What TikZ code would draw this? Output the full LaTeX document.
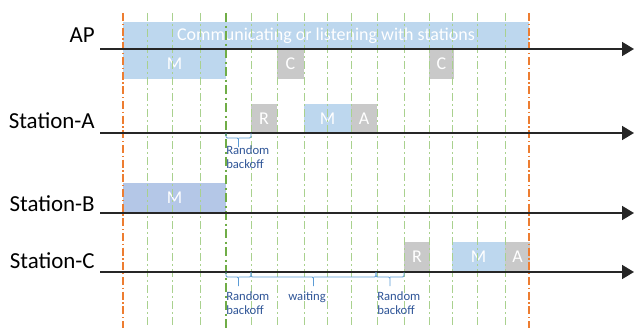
\documentclass[tikz,border=0pt]{standalone}
\usepackage{fontspec}
\setmainfont{Carlito}
\usetikzlibrary{positioning, arrows.meta, calc}
\definecolor{apblue}{HTML}{BDD7EE}
\definecolor{bblue}{HTML}{B4C7E7}
\definecolor{cgray}{HTML}{C9C9C9}
\definecolor{gridgreen}{HTML}{A9D18E}
\definecolor{mgreen}{HTML}{70AD47}
\definecolor{borange}{HTML}{ED7D31}
\definecolor{bracecol}{HTML}{5B9BD5}
\definecolor{notecol}{HTML}{2F5597}
\newcommand{\bkt}[2]{\draw[bracket] (#1) -- ++(0,5) -- ($(#1)!.5!(#2)+(0,5)$) -- ++(0,9) ++(0,-9) -- ($(#2)+(0,5)$) -- (#2);}

\begin{document}
\begin{tikzpicture}[x=0.75pt, y=-0.75pt, every node/.style={font=\fontsize{13.5}{15}\selectfont}]
  % Styles
  \tikzset{
    frame/.style = {minimum height=22pt, inner sep=0pt, text=white},
    msg/.style = {frame, fill=apblue},
    ctrl/.style = {frame, fill=cgray},
    station/.style = {anchor=base east, inner sep=0pt, font=\fontsize{17.2}{19}\selectfont},
    timeline/.style = {line width=1.2pt, black!85, -{Triangle[length=9pt, width=10.5pt]}},
    slot/.style = {gridgreen, line width=0.6pt, dash pattern=on 6pt off 2.5pt on 1pt off 2.5pt},
    start/.style = {mgreen, line width=1.5pt, dash pattern=on 7pt off 2.5pt on 1.5pt off 2.5pt},
    bound/.style = {borange, line width=0.8pt, dash pattern=on 6pt off 2pt on 1pt off 2pt},
    bracket/.style = {bracecol, line width=0.7pt, rounded corners=1pt},
    note/.style = {text=notecol, font=\fontsize{9.5}{11}\selectfont, align=left, inner sep=0pt, anchor=north west}
  }
  \useasboundingbox (0,0) rectangle (634,328);

  % Frames
  \node[msg, minimum width=304.5pt, minimum height=20pt] (comm) at (326,35.5) {Communicating or listening with stations};
  \node[msg, minimum width=77.25pt] (apM) at (174.5,64) {M};
  \node[ctrl, minimum width=20.25pt] (apC1) at (290.5,64) {C};
  \node[ctrl, minimum width=18.75pt] (apC2) at (441.5,64) {C};

  \node[ctrl, minimum width=19.5pt] (aR) at (264,118.5) {R};
  \node[msg, minimum width=35.25pt] (aM) at (327.5,118.5) {M};
  \node[ctrl, minimum width=19.5pt] (aA) at (364,118.5) {A};

  \node[msg, fill=bblue, minimum width=77.25pt] (bM) at (174.5,198) {M};

  \node[ctrl, minimum width=19.5pt] (cR) at (417,257) {R};
  \node[msg, minimum width=39.75pt] (cM) at (478.5,257) {M};
  \node[ctrl, minimum width=18.75pt] (cA) at (517.5,257) {A};

  % Slots
  \foreach \x in {147,172,200,251,277,304,327,351,377,404,429,452,477,505}
    \draw[slot] (\x,13) -- (\x,328);
  \draw[bound] (123,13) -- (123,328);
  \draw[bound] (529,13) -- (529,328);
  \draw[start] (226,13) -- (226,328);

  % Timelines
  \coordinate (apS) at (100,49);  \coordinate (apE) at (634,49);
  \coordinate (aS) at (100,133);  \coordinate (aE) at (634,133);
  \coordinate (bS) at (100,213);  \coordinate (bE) at (634,213);
  \coordinate (cS) at (100,272);  \coordinate (cE) at (634,272);
  \draw[timeline] (apS) -- (apE);
  \draw[timeline] (aS) -- (aE);
  \draw[timeline] (bS) -- (bE);
  \draw[timeline] (cS) -- (cE);

  \node[station] (lblAP) at (95,43) {AP};
  \node[station] (lblA) at (95,128) {Station-A};
  \node[station] (lblB) at (95,211) {Station-B};
  \node[station] (lblC) at (95,268) {Station-C};

  % Backoff
  \coordinate (aT0) at (226,133); \coordinate (aT1) at (251,133);
  \coordinate (cT0) at (226,272); \coordinate (cT1) at (251,272);
  \coordinate (cT2) at (376,272); \coordinate (cT3) at (404,272);
  \bkt{aT0}{aT1}
  \bkt{cT0}{cT1}
  \bkt{cT1}{cT2}
  \bkt{cT2}{cT3}

  \node[note] (nA) at (226,145) {Random\\backoff};
  \node[note] (nC1) at (226,291) {Random\\backoff};
  \node[note] (nC2) at (288,291) {waiting};
  \node[note] (nC3) at (377,291) {Random\\backoff};

\end{tikzpicture}
\end{document}
